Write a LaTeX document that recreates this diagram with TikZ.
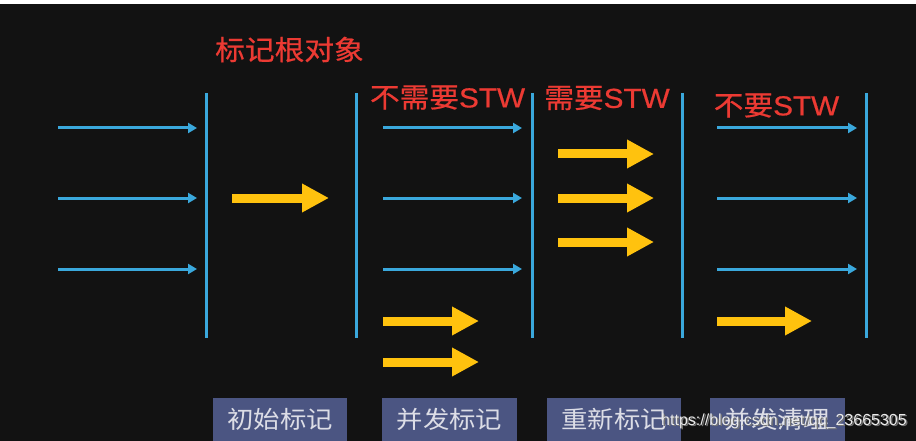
\documentclass[tikz,border=0pt]{standalone}
\usepackage{fontspec}
\setmainfont{Liberation Sans}
\newfontfamily\cjk{Noto Sans CJK SC}
\newfontfamily\cjkred[FakeBold=0.6]{Noto Sans CJK SC}
\newfontfamily\latred[FakeBold=0.6]{Liberation Sans}
\usetikzlibrary{arrows.meta}
\definecolor{bgc}{HTML}{121212}
\definecolor{lineblue}{HTML}{3AA8DC}
\definecolor{labred}{HTML}{EC3A33}
\definecolor{fatyel}{HTML}{FFC20E}
\definecolor{boxc}{HTML}{4B5582}
\definecolor{boxtxt}{HTML}{DCDDE6}
\begin{document}
\begin{tikzpicture}[x=1pt,y=-1pt,
  phase/.style={draw=lineblue, line width=3pt},
  thin arrow/.style={draw=lineblue, line width=3pt, -{Triangle[length=9pt,width=10pt]}},
  fat arrow/.style={draw=fatyel, line width=9pt, -{Triangle[length=27pt,width=27pt]}},
  redlbl/.style={text=labred, inner sep=0pt, font=\latred\fontsize{27.5}{27.5}\selectfont, xscale=1.08},
  stagebox/.style={fill=boxc, text=boxtxt, inner sep=0pt, minimum height=43pt,
    font=\cjk\fontsize{24}{24}\selectfont},
  wmark/.style={inner sep=0pt, font=\fontsize{16}{16}\selectfont}
]
\useasboundingbox (0,0) rectangle (916,441);
\fill[bgc] (0,0) rectangle (916,441);
\fill[white] (0,0) rectangle (916,4);

% vertical phase lines
\foreach \i/\x in {1/206,2/356,3/532,4/682,5/866}{
  \coordinate (v\i t) at (\x,93);
  \coordinate (v\i b) at (\x,338);
  \draw[phase] (v\i t) -- (v\i b);
}

% thin blue arrows
\foreach \n/\xa/\xb/\y in {a/58/197/128, b/58/197/198, c/58/197/269,
                           d/383/522/128, e/383/522/198, f/383/522/269,
                           g/717/857/128, h/717/857/198, k/717/857/269}{
  \coordinate (\n s) at (\xa,\y);
  \coordinate (\n e) at (\xb,\y);
  \draw[thin arrow] (\n s) -- (\n e);
}

% fat yellow arrows
\foreach \n/\xa/\xb/\y in {p/232/329/198,
                           q/383/479/321, r/383/479/362,
                           s/558/654/154, t/558/654/198, u/558/654/242,
                           w/717/812/321}{
  \coordinate (\n s) at (\xa,\y);
  \coordinate (\n e) at (\xb,\y);
  \draw[fat arrow] (\n s) -- (\n e);
}

% red labels
\node[redlbl] (l1) at (289.5,49.5) {\cjkred 标记根对象};
\node[redlbl] (l2) at (447.5,97.5) {{\cjkred 不需要}STW};
\node[redlbl] (l3) at (607,98) {{\cjkred 需要}STW};
\node[redlbl] (l4) at (776.5,105.5) {{\cjkred 不要}STW};

% stage boxes
\node[stagebox, minimum width=134pt] (s1) at (280,419.5) {\raisebox{2pt}{\scalebox{1.1}[1]{初始标记}}};
\node[stagebox, minimum width=135pt] (s2) at (449.5,419.5) {\raisebox{2pt}{\scalebox{1.1}[1]{并发标记}}};
\node[stagebox, minimum width=134pt] (s3) at (614,419.5) {\raisebox{2pt}{\scalebox{1.1}[1]{重新标记}}};
\node[stagebox, minimum width=135pt] (s4) at (777.5,419.5) {\raisebox{2pt}{\scalebox{1.1}[1]{并发清理}}};

% watermark
\node[wmark, text=black!55] (wm2) at (785.5,422.5) {https://blog.csdn.net/qq\_23665305};
\node[wmark, text=white!92!black] (wm1) at (784,421) {https://blog.csdn.net/qq\_23665305};
\end{tikzpicture}
\end{document}
